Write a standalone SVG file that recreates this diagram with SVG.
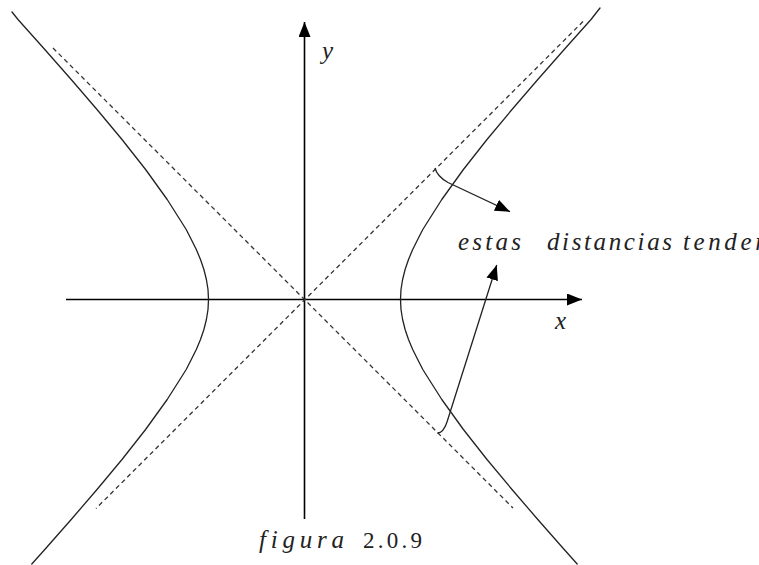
<svg xmlns="http://www.w3.org/2000/svg" width="759" height="565" viewBox="0 0 759 565">
<style>
.axis{stroke:#000;stroke-width:1.6;fill:none}
.curve{stroke:#222;stroke-width:1.3;fill:none;stroke-linejoin:round;stroke-linecap:round}
.dash{stroke:#333;stroke-width:1.3;fill:none;stroke-dasharray:4.5 3.5}
.arr{stroke:#222;stroke-width:1.3;fill:none}
</style>
<defs>
<marker id="ah" markerUnits="userSpaceOnUse" markerWidth="15" markerHeight="12" refX="15" refY="6" orient="auto">
<path d="M0,0 L15,6 L0,12 z" fill="#000"/>
</marker>
</defs>
<rect width="759" height="565" fill="#fff"/>
<g id="axes">
<line class="axis" x1="66" y1="299.5" x2="582" y2="299.5" marker-end="url(#ah)"/>
<line class="axis" x1="304.5" y1="519" x2="304.5" y2="22" marker-end="url(#ah)"/>
</g>
<g id="asymptotes">
<line class="dash" x1="53" y1="48" x2="513" y2="508"/>
<line class="dash" x1="583" y1="21.5" x2="96" y2="508.5"/>
</g>
<g id="hyperbola">
<polyline id="right-branch" class="curve" points="600,8 591,19.5 564.2,49.5 537.8,79.5 512,109.5 487,139.5 463.4,169.5 441.8,199.5 429.1,219.5 422.8,229.5 417.7,239.5 412.7,249.5 408.5,259.5 405.1,269.5 402.6,279.5 401,289.5 400.5,299.5 401,309.5 402.6,319.5 405.1,329.5 408.5,339.5 412.7,349.5 417.7,359.5 422.8,369.5 429.1,379.5 441.8,399.5 463.4,429.5 487,459.5 512,489.5 537.8,519.5 564.2,549.5 577.2,564"/>
<polyline id="left-branch" class="curve" points="12,12 18,19.5 44.8,49.5 71.2,79.5 97,109.5 122,139.5 145.6,169.5 167.2,199.5 179.9,219.5 186.2,229.5 191.3,239.5 196.3,249.5 200.5,259.5 203.9,269.5 206.4,279.5 208,289.5 208.5,299.5 208,309.5 206.4,319.5 203.9,329.5 200.5,339.5 196.3,349.5 191.3,359.5 186.2,369.5 179.9,379.5 167.2,399.5 145.6,429.5 122,459.5 97,489.5 71.2,519.5 44.8,549.5 31.8,564"/>
</g>
<g id="connectors">
<path class="arr" d="M435,168 C436,172 440,178 448,182.5 L510,211.7" marker-end="url(#ah)"/>
<path class="arr" d="M437.5,433 C442,433 445,428 447,422 L496.7,265" marker-end="url(#ah)"/>
</g>
<g id="labels" font-family="'Liberation Serif', 'DejaVu Serif', serif" font-style="italic" font-size="25" fill="#222">
<text x="322" y="59">y</text>
<text x="555" y="329">x</text>
<text x="458" y="250" textLength="63" lengthAdjust="spacing">estas</text>
<text x="547" y="250" textLength="125" lengthAdjust="spacing">distancias</text>
<text x="683" y="250" letter-spacing="3.6">tender</text>
<text x="259" y="548" textLength="85" lengthAdjust="spacing">figura</text>
<text x="363" y="548" font-style="normal" font-size="23" textLength="59" lengthAdjust="spacing">2.0.9</text>
</g>
</svg>
